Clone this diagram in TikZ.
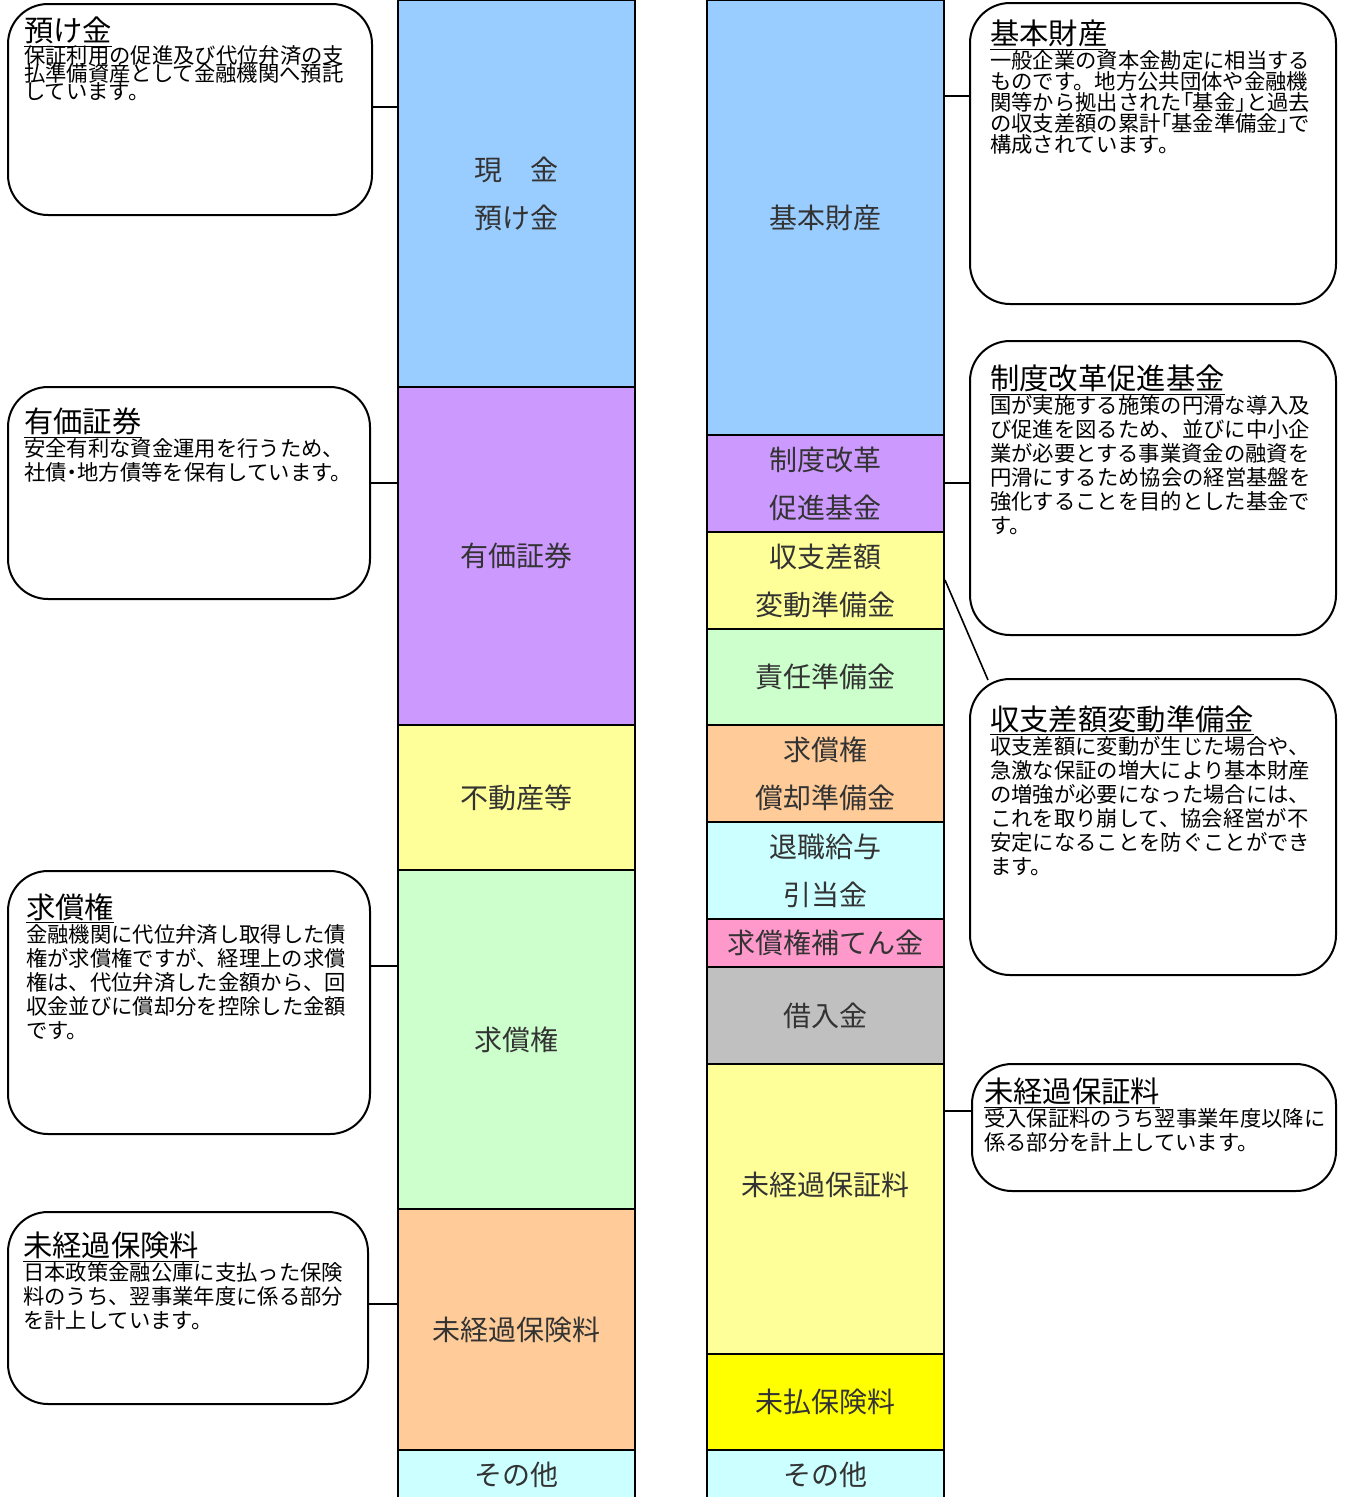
\documentclass[tikz,border=0pt]{standalone}
\usepackage{fontspec}
\setmainfont{Noto Sans CJK JP}
\newfontfamily\pfont[RawFeature=+palt]{Noto Sans CJK JP}
\definecolor{skyblue}{HTML}{99CCFF}
\definecolor{lilac}{HTML}{CC99FF}
\definecolor{lemon}{HTML}{FFFF99}
\definecolor{mint}{HTML}{CCFFCC}
\definecolor{peach}{HTML}{FFCC99}
\definecolor{aqua}{HTML}{CCFFFF}
\definecolor{rose}{HTML}{FF99CC}
\definecolor{silver}{HTML}{C0C0C0}
\definecolor{lemondark}{HTML}{FFFF00}
\newcommand{\nhead}[1]{{\fontsize{22}{22}\selectfont\underline{#1}}}
\newcommand{\kl}{{\pfont 「}}
\newcommand{\kr}{{\pfont 」}}

\begin{document}
\begin{tikzpicture}[x=0.75pt,y=-0.75pt,
    seg/.style={draw, line width=1.5pt, minimum width=177.75pt, inner sep=0pt,
      align=center, text=black!80, font=\fontsize{21}{36}\selectfont},
    callout/.style={draw, line width=1.5pt, rounded corners=30pt,
      anchor=north west, inner sep=0pt},
    note/.style={anchor=north west, align=left, inner sep=0pt,
      font=\fontsize{16}{18}\selectfont},
    link/.style={line width=1.2pt}]
    \lineskiplimit=-100pt
    \lineskip=0pt
    \useasboundingbox (0,0) rectangle (1345,1497);

    % assets
    \foreach \nm/\yt/\yb/\col/\txt in {
      cash/0/387/skyblue/{現　金\\預け金},
      secu/387/725/lilac/有価証券,
      realty/725/870/lemon/不動産等,
      claim/870/1209/mint/求償権,
      unprem/1209/1450/peach/未経過保険料,
      othera/1450/1500/aqua/その他}
    { \node[seg, fill=\col, minimum height={(\yb-\yt)*0.75pt}] (\nm) at (516.5,{(\yt+\yb)/2}) {\txt}; }

    % liabilities and net assets
    \foreach \nm/\yt/\yb/\col/\txt in {
      kihon/0/435/skyblue/基本財産,
      seido/435/532/lilac/{制度改革\\促進基金},
      shushi/532/629/lemon/{収支差額\\変動準備金},
      sekinin/629/725/mint/責任準備金,
      shokyaku/725/822/peach/{求償権\\償却準備金},
      taishoku/822/919/aqua/{退職給与\\引当金},
      hoten/919/967/rose/求償権補てん金,
      kariire/967/1064/silver/借入金,
      unfee/1064/1354/lemon/{未経過保証料\\\phantom{未}},
      unpaid/1354/1450/lemondark/未払保険料,
      otherb/1450/1500/aqua/その他}
    { \node[seg, fill=\col, minimum height={(\yb-\yt)*0.75pt}] (\nm) at (825.5,{(\yt+\yb)/2}) {\txt}; }

    % left notes
    \node[callout, minimum width=273pt, minimum height=158.25pt] (depbox) at (7,3) {};
    \node[note, font=\fontsize{16}{13.5}\selectfont] (deptxt)
      at ([shift={(17,14)}]depbox.north west)
      {\nhead{預け金}\\[3pt]保証利用の促進及び代位弁済の支\\払準備資産として金融機関へ預託\\しています。};
    \node[callout, minimum width=271.5pt, minimum height=159pt] (secbox) at (7,386) {};
    \node[note] (sectxt) at ([shift={(17,22)}]secbox.north west)
      {\nhead{有価証券}\\安全有利な資金運用を行うため、\\社債{\pfont ・}地方債等を保有しています。};
    \node[callout, minimum width=271.5pt, minimum height=197.25pt] (clmbox) at (7,870) {};
    \node[note] (clmtxt) at ([shift={(19,23)}]clmbox.north west)
      {\nhead{求償権}\\金融機関に代位弁済し取得した債\\権が求償権ですが、経理上の求償\\権は、代位弁済した金額から、回\\収金並びに償却分を控除した金額\\です。};
    \node[callout, minimum width=270pt, minimum height=144pt] (uprbox) at (7,1211) {};
    \node[note] (uprtxt) at ([shift={(16,21)}]uprbox.north west)
      {\nhead{未経過保険料}\\日本政策金融公庫に支払った保険\\料のうち、翌事業年度に係る部分\\を計上しています。};

    % right notes
    \node[callout, minimum width=274.5pt, minimum height=225.75pt] (kihonbox) at (969,2) {};
    \node[note, font=\fontsize{16}{15.75}\selectfont] (kihontxt)
      at ([shift={(21,18)}]kihonbox.north west)
      {\nhead{基本財産}\\[2pt]一般企業の資本金勘定に相当する\\ものです。地方公共団体や金融機\\関等から拠出された\kl 基金\kr と過去\\の収支差額の累計\kl 基金準備金\kr で\\構成されています。};
    \node[callout, minimum width=274.5pt, minimum height=220.5pt] (seidobox) at (969,340) {};
    \node[note] (seidotxt) at ([shift={(21,25)}]seidobox.north west)
      {\nhead{制度改革促進基金}\\国が実施する施策の円滑な導入及\\び促進を図るため、並びに中小企\\業が必要とする事業資金の融資を\\円滑にするため協会の経営基盤を\\強化することを目的とした基金で\\す。};
    \node[callout, minimum width=274.5pt, minimum height=222pt] (shushibox) at (969,678) {};
    \node[note] (shushitxt) at ([shift={(21,27)}]shushibox.north west)
      {\nhead{収支差額変動準備金}\\収支差額に変動が生じた場合や、\\急激な保証の増大により基本財産\\の増強が必要になった場合には、\\これを取り崩して、協会経営が不\\安定になることを防ぐことができ\\ます。};
    \node[callout, minimum width=273pt, minimum height=95.25pt] (feebox) at (971,1063) {};
    \node[note] (feetxt) at ([shift={(13,15)}]feebox.north west)
      {\nhead{未経過保証料}\\受入保証料のうち翌事業年度以降に\\係る部分を計上しています。};

    % links
    \coordinate (lvDep) at (0,107);
    \coordinate (lvSec) at (0,483);
    \coordinate (lvClm) at (0,966);
    \coordinate (lvUpr) at (0,1304);
    \coordinate (lvKihon) at (0,96);
    \coordinate (lvSeido) at (0,483);
    \coordinate (lvShushi) at (0,580);
    \coordinate (lvFee) at (0,1111);
    \draw[link] (depbox.east |- lvDep) -- (cash.west |- lvDep);
    \draw[link] (secbox.east |- lvSec) -- (secu.west |- lvSec);
    \draw[link] (clmbox.east |- lvClm) -- (claim.west |- lvClm);
    \draw[link] (uprbox.east |- lvUpr) -- (unprem.west |- lvUpr);
    \draw[link] (kihon.east |- lvKihon) -- (kihonbox.west |- lvKihon);
    \draw[link] (seido.east |- lvSeido) -- (seidobox.west |- lvSeido);
    \draw[link] (shushi.east |- lvShushi) -- ([shift={(19,2)}]shushibox.north west);
    \draw[link] (unfee.east |- lvFee) -- (feebox.west |- lvFee);
\end{tikzpicture}
\end{document}
